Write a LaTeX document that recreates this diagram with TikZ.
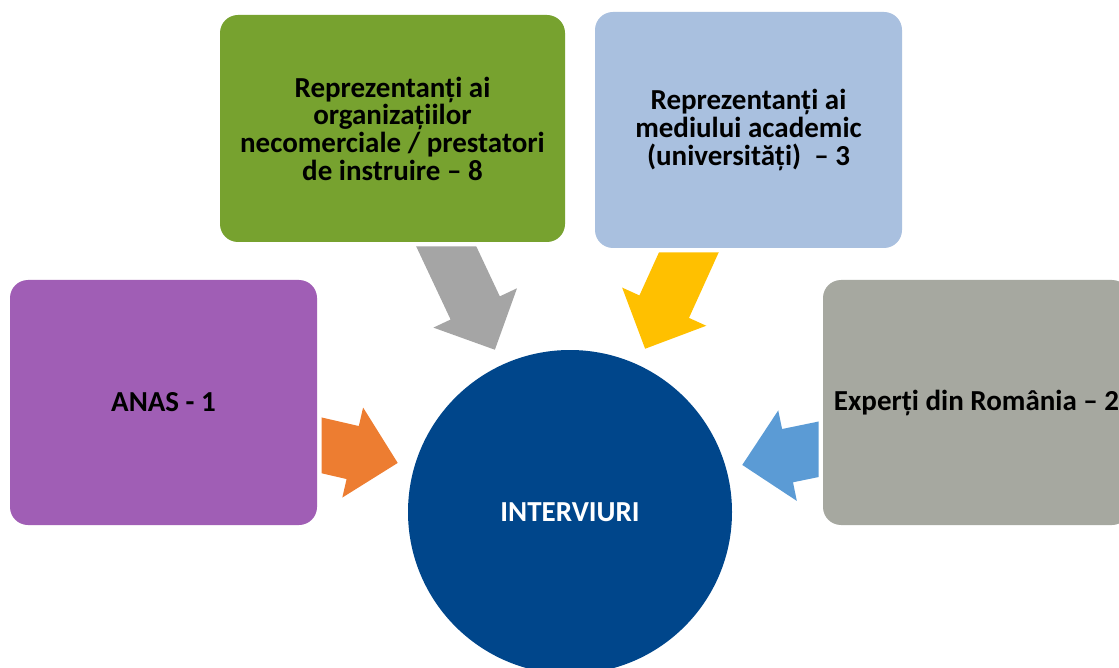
\documentclass[tikz,border=0pt]{standalone}
\usepackage{fontspec}
\setmainfont{Carlito}
\usetikzlibrary{positioning, shapes.arrows}

\definecolor{anaspurple}{HTML}{A05EB5}
\definecolor{ongreen}{HTML}{77A22F}
\definecolor{acadblue}{HTML}{A9C0DF}
\definecolor{expgray}{HTML}{A6A8A0}
\definecolor{circblue}{HTML}{00468B}
\definecolor{arrorange}{HTML}{ED7D31}
\definecolor{arrgray}{HTML}{A5A5A5}
\definecolor{arryellow}{HTML}{FFC000}
\definecolor{arrblue}{HTML}{5B9BD5}

\begin{document}
\begin{tikzpicture}[x=1pt, y=-1pt]
   \tikzset{txt/.style={font=\fontsize{29}{27.7}\selectfont\bfseries},
     box/.style={txt, rectangle, rounded corners=18pt, inner sep=0pt, align=center, text=black,
       preaction={draw=white, line width=9pt}},
     blockarrow/.style={single arrow, inner xsep=0pt, inner ysep=27pt, minimum width=0pt,
       single arrow head extend=19pt, anchor=tip}}
  \clip (0,0) rectangle (1119,668);
  \node[txt, circle, fill=circblue, minimum size=324pt, text=white] (intv) at (570,512) {INTERVIURI};
  % block arrows, under the boxes
  \node[blockarrow, fill=arrorange, minimum height=110pt, rotate=-13] (arA) at (398,463) {};
  \node[blockarrow, fill=arrgray, minimum height=140pt, rotate=-64.8] (arB) at (495,350) {};
  \node[blockarrow, fill=arryellow, minimum height=135pt, rotate=-114.4] (arC) at (645,349) {};
  \node[blockarrow, fill=arrblue, minimum height=110pt, rotate=191.6] (arD) at (742,465) {};
  % the four groups
  \node[box, fill=anaspurple, minimum width=307pt, minimum height=245pt] (anas) at (163.5,402.5) {ANAS - 1};
  \node[box, fill=ongreen, minimum width=345pt, minimum height=227pt] (ong) at (392.5,128.5)
    {Reprezentanți ai\\ organizațiilor\\ necomerciale / prestatori\\ de instruire – 8};
  \node[box, fill=acadblue, minimum width=307pt, minimum height=236pt] (acad) at (748.5,130)
    {Reprezentanți ai\\ mediului academic\\ (universități)~ – 3};
  \node[box, fill=expgray, minimum width=307pt, minimum height=245pt] (exp) at (976.5,402.5) {Experți din România – 2};
\end{tikzpicture}
\end{document}
